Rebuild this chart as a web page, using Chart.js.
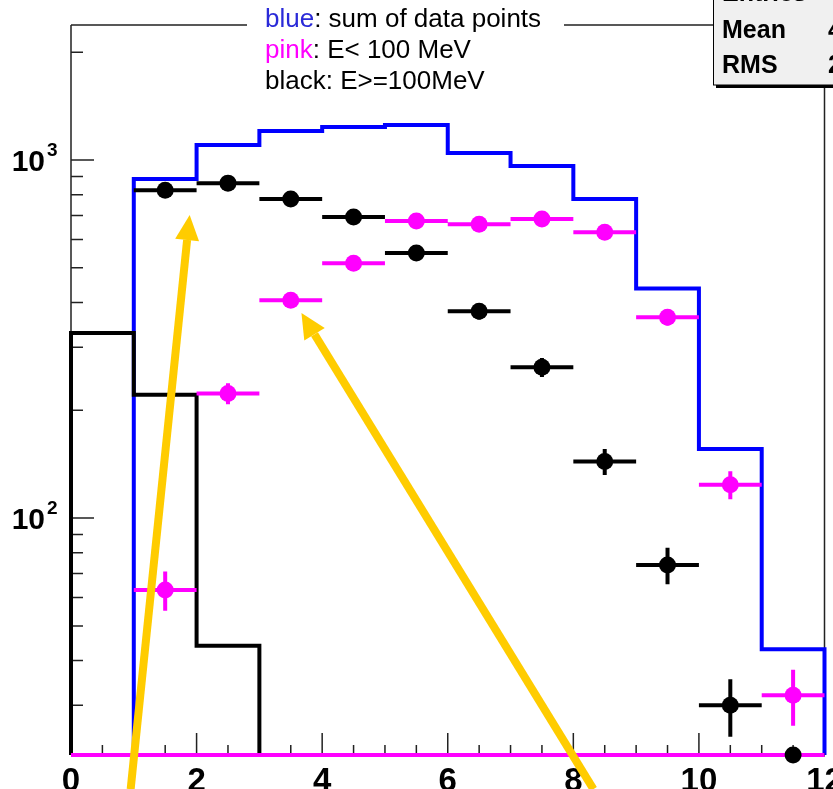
<!DOCTYPE html>
<html>
<head>
<meta charset="utf-8">
<script src="https://cdn.jsdelivr.net/npm/chart.js@4.4.1/dist/chart.umd.min.js"></script>
<style>
  html, body { margin: 0; padding: 0; background: #fff; }
  #wrap { width: 833px; height: 789px; position: relative; }
</style>
</head>
<body>
<div id="wrap"><canvas id="histo"></canvas></div>
<script>
// bins of the energy histogram (0..12, width 1)
const binEdges = [0, 1, 2, 3, 4, 5, 6, 7, 8, 9, 10, 11, 12];
const binCenters = [0.5, 1.5, 2.5, 3.5, 4.5, 5.5, 6.5, 7.5, 8.5, 9.5, 10.5, 11.5];

// blue: sum of data points
const blueSum = [0, 885, 1101, 1205, 1236, 1253, 1046, 962, 778, 438, 156, 43];
// black reference histogram
const blackHist = [329, 221, 44, 0, 0, 0, 0, 0, 0, 0, 0, 0];
// pink histogram (empty, sits on the bottom of the frame)
const pinkHist = [0, 0, 0, 0, 0, 0, 0, 0, 0, 0, 0, 0];

// pink: E < 100 MeV
const pinkPts = [0, 63, 223, 406, 515, 676, 662, 684, 629, 364, 124, 32];
const pinkErr = [0, 7.9, 14.9, 20.1, 22.7, 26.0, 25.7, 26.2, 25.1, 19.1, 11.1, 5.7];
// black: E >= 100 MeV
const blackPts = [0, 824, 862, 778, 693, 550, 378, 264, 144, 74, 30, 11];
const blackErr = [0, 28.7, 29.4, 27.9, 26.3, 23.5, 19.4, 16.2, 12.0, 8.6, 5.5, 3.3];

const xTickLabels = [0, 2, 4, 6, 8, 10, 12];
const yDecades = [10, 100, 1000];

// arrows: [tail, head] in data units
const arrows = [
  [{x: 0.95, y: 17.5}, {x: 1.89, y: 702}],
  [{x: 8.32, y: 17.5}, {x: 3.67, y: 374}]
];

const Y_MIN = 21.8;
const Y_MAX = 2383;

const BLUE = '#0000ff';
const PINK = '#ff00ff';
const BLACK = '#000000';
const YELLOW = '#ffcc00';

// histogram outline as a step line, starting and ending on the floor
const stepData = vals => {
  const pts = [{x: binEdges[0], y: Y_MIN}];
  vals.forEach((v, i) => pts.push({x: binEdges[i], y: Math.max(v, Y_MIN)}));
  const last = vals.length;
  pts.push({x: binEdges[last], y: Math.max(vals[last - 1], Y_MIN)});
  pts.push({x: binEdges[last], y: Y_MIN});
  return pts;
};

const pointData = vals => vals
  .map((v, i) => ({x: binCenters[i], y: Math.max(v, Y_MIN), raw: v}))
  .filter(p => p.raw > 0);

// with 'before' chart.js goes horizontal at the old level, then vertical
const histDataset = (vals, color, order) => ({
  data: stepData(vals),
  showLine: true,
  stepped: 'before',
  borderColor: color,
  borderWidth: 4,
  borderJoinStyle: 'miter',
  borderCapStyle: 'butt',
  pointRadius: 0,
  clip: false,
  order: order
});

const pointDataset = (vals, errs, color, order) => ({
  data: pointData(vals),
  values: vals,
  errors: errs,
  showLine: false,
  pointStyle: 'circle',
  pointRadius: 8.5,
  pointBackgroundColor: color,
  pointBorderWidth: 0,
  barColor: color,
  clip: false,
  order: order
});

// frame, tick marks and tick labels in ROOT style (ticks pointing inward)
const axesPlugin = {
  id: 'rootAxes',
  beforeDatasetsDraw(chart) {
    const {ctx, chartArea: a, scales: {x, y}} = chart;
    ctx.save();
    ctx.strokeStyle = '#222';
    ctx.lineWidth = 1.5;
    ctx.beginPath();
    ctx.moveTo(a.left, a.bottom); ctx.lineTo(a.left, a.top);
    ctx.moveTo(a.left, a.top); ctx.lineTo(a.right, a.top);
    ctx.moveTo(a.right, a.top); ctx.lineTo(a.right, a.bottom);
    ctx.moveTo(a.left, a.bottom); ctx.lineTo(a.right, a.bottom);
    // x ticks every 0.5, long ones at labelled values
    for (let v = 0; v <= 12; v += 0.5) {
      const px = x.getPixelForValue(v);
      const len = xTickLabels.includes(v) ? 22 : 10;
      ctx.moveTo(px, a.bottom); ctx.lineTo(px, a.bottom - len);
    }
    // y ticks on the log scale
    yDecades.forEach(d => {
      for (let k = 1; k <= 9; k++) {
        const v = k * d;
        if (v < Y_MIN || v > Y_MAX) continue;
        const py = y.getPixelForValue(v);
        const len = k === 1 ? 23 : 12;
        ctx.moveTo(a.left, py); ctx.lineTo(a.left + len, py);
      }
    });
    ctx.stroke();

    ctx.fillStyle = BLACK;
    ctx.font = 'bold 33px "Liberation Sans", Arial, sans-serif';
    ctx.textAlign = 'center';
    ctx.textBaseline = 'alphabetic';
    xTickLabels.forEach(v => {
      ctx.fillText(String(v), x.getPixelForValue(v), a.bottom + 36);
    });

    yDecades.forEach(d => {
      if (d < Y_MIN || d > Y_MAX) return;
      const py = y.getPixelForValue(d);
      const exp = Math.round(Math.log10(d));
      ctx.font = 'bold 30px "Liberation Sans", Arial, sans-serif';
      ctx.textAlign = 'right';
      ctx.fillText('10', 45, py + 11);
      ctx.font = 'bold 19px "Liberation Sans", Arial, sans-serif';
      ctx.textAlign = 'left';
      ctx.fillText(String(exp), 47, py - 4);
    });
    ctx.restore();
  }
};

// error bars under each marker set: full bin width and +-sigma
const errorBarPlugin = {
  id: 'errorBars',
  beforeDatasetDraw(chart, args) {
    const ds = chart.data.datasets[args.index];
    if (!ds.errors) return;
    const {ctx, scales: {x, y}} = chart;
    ctx.save();
    ctx.strokeStyle = ds.barColor;
    ctx.lineWidth = 4;
    ctx.lineCap = 'butt';
    ctx.beginPath();
    ds.values.forEach((v, i) => {
      if (v < Y_MIN) return;
      const c = binCenters[i];
      const cx = x.getPixelForValue(c);
      const cy = y.getPixelForValue(v);
      ctx.moveTo(x.getPixelForValue(c - 0.5), cy);
      ctx.lineTo(x.getPixelForValue(c + 0.5), cy);
      ctx.moveTo(cx, y.getPixelForValue(v + ds.errors[i]));
      ctx.lineTo(cx, y.getPixelForValue(Math.max(v - ds.errors[i], Y_MIN)));
    });
    ctx.stroke();
    ctx.restore();
  }
};

// yellow arrows, caption box and stats box on top
const overlayPlugin = {
  id: 'overlay',
  afterDraw(chart) {
    const {ctx, chartArea: a, scales: {x, y}} = chart;
    ctx.save();

    arrows.forEach(([from, to]) => {
      const x0 = x.getPixelForValue(from.x), y0 = y.getPixelForValue(from.y);
      const x1 = x.getPixelForValue(to.x), y1 = y.getPixelForValue(to.y);
      const ang = Math.atan2(y1 - y0, x1 - x0);
      const head = 25, half = 12;
      const bx = x1 - head * Math.cos(ang), by = y1 - head * Math.sin(ang);
      ctx.strokeStyle = YELLOW;
      ctx.lineWidth = 8;
      ctx.lineCap = 'butt';
      ctx.beginPath();
      ctx.moveTo(x0, y0);
      ctx.lineTo(bx, by);
      ctx.stroke();
      ctx.fillStyle = YELLOW;
      ctx.beginPath();
      ctx.moveTo(x1, y1);
      ctx.lineTo(bx + half * Math.sin(ang), by - half * Math.cos(ang));
      ctx.lineTo(bx - half * Math.sin(ang), by + half * Math.cos(ang));
      ctx.closePath();
      ctx.fill();
    });

    // caption
    ctx.fillStyle = '#fff';
    ctx.fillRect(247, 0, 317, a.top + 3);
    ctx.font = '26px "Liberation Sans", Arial, sans-serif';
    ctx.textAlign = 'left';
    ctx.textBaseline = 'alphabetic';
    const lines = [
      [['blue', '#2a2ad8'], [': sum of data points', BLACK]],
      [['pink', PINK], [': E< 100 MeV', BLACK]],
      [['black: E>=100MeV', BLACK]]
    ];
    lines.forEach((parts, row) => {
      let tx = 265;
      parts.forEach(([txt, col]) => {
        ctx.fillStyle = col;
        ctx.fillText(txt, tx, 27 + row * 31);
        tx += ctx.measureText(txt).width;
      });
    });

    // stats box
    ctx.fillStyle = BLACK;
    ctx.fillRect(716, -5, 130, 93);
    ctx.fillStyle = '#f0f0f0';
    ctx.fillRect(713, -5, 130, 90);
    ctx.strokeStyle = BLACK;
    ctx.lineWidth = 1;
    ctx.strokeRect(713.5, -5, 130, 90);
    ctx.fillStyle = BLACK;
    ctx.font = 'bold 25px "Liberation Sans", Arial, sans-serif';
    ctx.fillText('Entries', 722, 1);
    ctx.fillText('Mean', 722, 38);
    ctx.fillText('RMS', 722, 73);
    ctx.fillText('4.9', 828, 38);
    ctx.fillText('2.4', 828, 73);
    ctx.restore();
  }
};

const chart = new Chart(document.getElementById('histo'), {
  type: 'scatter',
  data: {
    datasets: [
      pointDataset(blackPts, blackErr, BLACK, 0),
      pointDataset(pinkPts, pinkErr, PINK, 1),
      histDataset(pinkHist, PINK, 2),
      histDataset(blackHist, BLACK, 3),
      histDataset(blueSum, BLUE, 4)
    ]
  },
  options: {
    responsive: true,
    maintainAspectRatio: false,
    animation: false,
    layout: {
      padding: {top: 25, right: 6, bottom: 34, left: 71}
    },
    scales: {
      x: {type: 'linear', min: 0, max: 12, display: false},
      y: {type: 'logarithmic', min: Y_MIN, max: Y_MAX, display: false}
    },
    elements: {
      line: {tension: 0}
    },
    plugins: {
      legend: {display: false},
      tooltip: {enabled: false}
    }
  },
  plugins: [axesPlugin, errorBarPlugin, overlayPlugin]
});
</script>
</body>
</html>
